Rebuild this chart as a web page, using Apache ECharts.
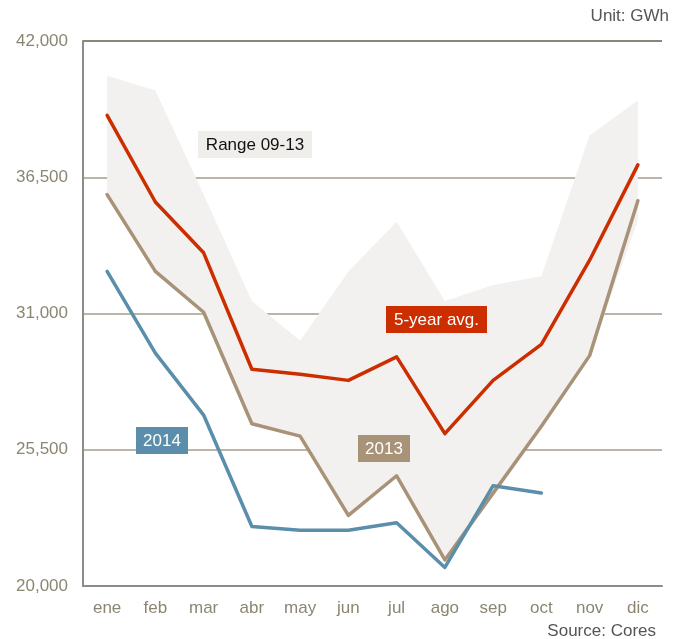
<!DOCTYPE html>
<html>
<head>
<meta charset="utf-8">
<script src="https://cdn.jsdelivr.net/npm/echarts@6/dist/echarts.min.js"></script>
<style>
html,body{margin:0;padding:0;background:#fff;}
#c{width:686px;height:639px;}
</style>
</head>
<body>
<div id="c"></div>
<script>
const months = ['ene','feb','mar','abr','may','jun','jul','ago','sep','oct','nov','dic'];
const yTicks = [20000, 25500, 31000, 36500, 42000];
const rangeUpper = [40600, 40000, 35800, 31500, 29900, 32700, 34700, 31500, 32150, 32500, 38200, 39600];
const rangeLower = [35800, 32700, 31050, 26550, 26050, 22850, 24450, 21050, 23750, 26450, 29300, 34750];
const avg5 = [39000, 35500, 33450, 28750, 28550, 28300, 29250, 26150, 28300, 29750, 33150, 37000];
const y2013 = [35800, 32700, 31050, 26550, 26050, 22850, 24450, 21050, 23750, 26450, 29300, 35550];
const y2014 = [32700, 29400, 26900, 22400, 22250, 22250, 22550, 20750, 24050, 23750, null, null];

const rangeDiff = rangeUpper.map((v, i) => v - rangeLower[i]);
const FONT = 'Liberation Sans, Arial, sans-serif';

const chart = echarts.init(document.getElementById('c'));
const lineStyle = (color) => ({ width: 3.5, color: color, cap: 'round', join: 'round' });

function box(text, left, top, w, h, bg, fg) {
  return {
    type: 'group', left: left, top: top, z: 100,
    children: [
      { type: 'rect', z: 100, shape: { x: 0, y: 0, width: w, height: h }, style: { fill: bg } },
      { type: 'text', z: 101, x: w / 2, y: h / 2 + 0.5, style: { text: text, fill: fg, font: '17px ' + FONT, textAlign: 'center', textVerticalAlign: 'middle' } }
    ]
  };
}

chart.setOption({
  animation: false,
  backgroundColor: '#fff',
  grid: { left: 83, right: 24, top: 41, bottom: 53 },
  xAxis: {
    type: 'category', data: months, boundaryGap: true,
    axisLine: { show: true, lineStyle: { color: '#8c8c8c', width: 2 } },
    axisTick: { show: false },
    axisLabel: { color: '#8b8672', fontSize: 17, fontFamily: FONT, margin: 14 }
  },
  yAxis: {
    type: 'value', min: yTicks[0], max: yTicks[yTicks.length - 1], interval: yTicks[1] - yTicks[0],
    axisLine: { show: true, lineStyle: { color: '#8c8c8c', width: 2 } },
    axisTick: { show: false },
    splitLine: { show: true, lineStyle: { color: '#a39d88', width: 1.5 } },
    axisLabel: {
      color: '#8b8672', fontSize: 17, fontFamily: FONT, margin: 15,
      formatter: v => v.toLocaleString('en-US')
    }
  },
  series: [
    { name: 'lower', type: 'line', data: rangeLower, stack: 'band', symbol: 'none',
      lineStyle: { opacity: 0 }, areaStyle: { opacity: 0 }, silent: true, z: 1 },
    { name: 'Range 09-13', type: 'line', data: rangeDiff, stack: 'band', symbol: 'none',
      lineStyle: { opacity: 0 }, areaStyle: { color: '#f2f1ef', opacity: 1 }, silent: true, z: 1 },
    { name: '5-year avg.', type: 'line', data: avg5, symbol: 'none', lineStyle: lineStyle('#cc2e00'), z: 5 },
    { name: '2013', type: 'line', data: y2013, symbol: 'none', lineStyle: lineStyle('#a89278'), z: 4 },
    { name: '2014', type: 'line', data: y2014, symbol: 'none', lineStyle: lineStyle('#5a8eaa'), z: 6 },
    { name: 'topline', type: 'line', data: [], markLine: { silent: true, symbol: 'none', label: { show: false },
      lineStyle: { color: '#8a877a', width: 2, type: 'solid' }, data: [{ yAxis: yTicks[yTicks.length - 1] }] } }
  ],
  graphic: [
    { type: 'text', right: 17, top: 8, z: 100, style: { text: 'Unit: GWh', fill: '#555', font: '17px ' + FONT } },
    { type: 'text', right: 30, top: 623, z: 100, style: { text: 'Source: Cores', fill: '#555', font: '17px ' + FONT } },
    box('Range 09-13', 198, 131, 114, 27, '#efeeeb', '#111'),
    box('5-year avg.', 386, 306, 101, 27, '#cc2e00', '#fff'),
    box('2014', 136, 427, 52, 27, '#5a8eaa', '#fff'),
    box('2013', 358, 435, 52, 27, '#a89278', '#fff')
  ]
});
</script>
</body>
</html>
